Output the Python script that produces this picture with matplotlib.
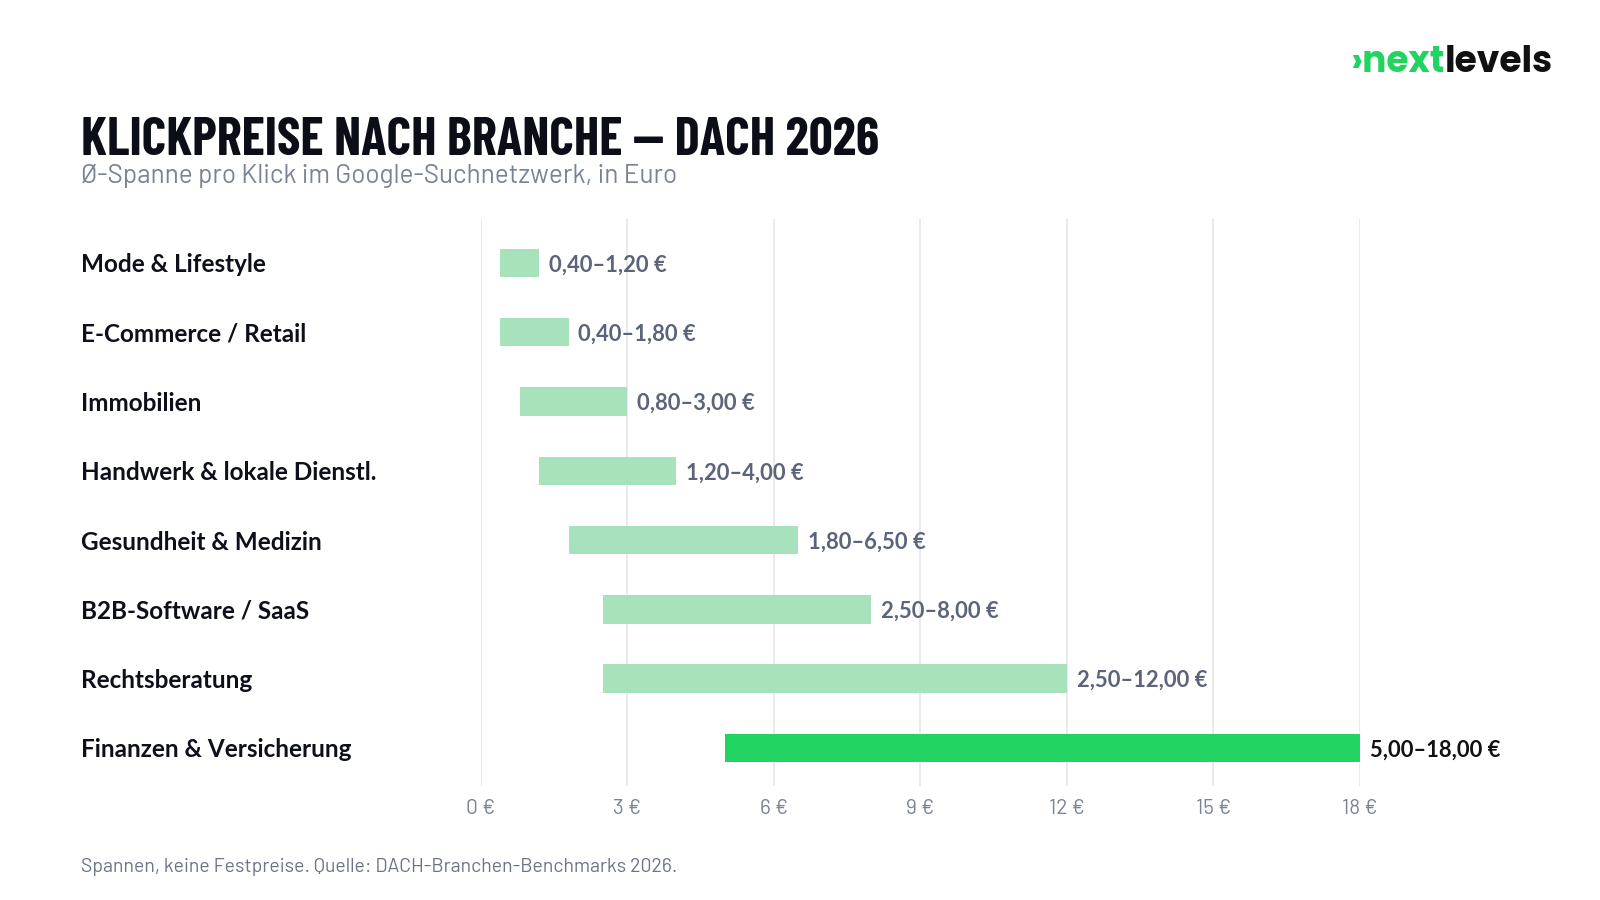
import matplotlib.pyplot as plt
from matplotlib.transforms import blended_transform_factory

categories = ["Mode & Lifestyle", "E-Commerce / Retail", "Immobilien",
              "Handwerk & lokale Dienstl.", "Gesundheit & Medizin",
              "B2B-Software / SaaS", "Rechtsberatung", "Finanzen & Versicherung"]
low = [0.40, 0.40, 0.80, 1.20, 1.80, 2.50, 2.50, 5.00]
high = [1.20, 1.80, 3.00, 4.00, 6.50, 8.00, 12.00, 18.00]
xticks = [0, 3, 6, 9, 12, 15, 18]
highlight = "Finanzen & Versicherung"

BODY = ["Lato", "DejaVu Sans"]
THIN = ["Barlow", "Lato", "DejaVu Sans"]
HEAD = ["Barlow Condensed", "DejaVu Sans"]
LOGO = ["Poppins", "Lato", "DejaVu Sans"]

def eur(v):
    return f"{v:.2f}".replace(".", ",")

fig = plt.figure(figsize=(16, 9), dpi=100)
fig.patch.set_facecolor("white")
ax = fig.add_axes([480.6 / 1600, 1 - 786 / 900, (1360 - 480.6) / 1600, (786 - 219) / 900])

for i, (c, lo, hi) in enumerate(zip(categories, low, high)):
    hl = c == highlight
    ax.barh(i, hi - lo, left=lo, height=0.41,
            color="#21d462" if hl else "#a8e2bd", zorder=2)
    ax.text(hi + 0.2, i, f"{eur(lo)}–{eur(hi)} €", va="center_baseline", ha="left",
            fontsize=15.8, fontweight="bold", family=BODY,
            color="#111111" if hl else "#5b6478", clip_on=False)

ax.set_xlim(0, 18)
ax.set_ylim(7.55, -0.635)
ax.set_xticks(xticks)
ax.set_xticklabels([f"{t} €" for t in xticks], fontsize=15, color="#7a8394", family=THIN)
ax.tick_params(axis="x", length=0, pad=9)
ax.set_yticks([])
ax.grid(axis="x", color="#e6e6e6", linewidth=1.2, zorder=0)
for s in ax.spines.values():
    s.set_visible(False)

tr = blended_transform_factory(fig.transFigure, ax.transData)
for i, c in enumerate(categories):
    ax.text(81 / 1600, i, c, transform=tr, va="center_baseline", ha="left",
            fontsize=17.5, fontweight="bold", family=BODY, color="#0d0f1a")

fig.text(81 / 1600, 1 - 141 / 900, "KLICKPREISE NACH BRANCHE — DACH 2026",
         fontsize=38, fontweight="bold", fontstretch="condensed", family=HEAD,
         color="#0b0d17", va="center", ha="left")
fig.text(81 / 1600, 1 - 176 / 900, "Ø-Spanne pro Klick im Google-Suchnetzwerk, in Euro",
         fontsize=18.8, family=THIN, color="#7a8394", va="center", ha="left")
fig.text(81 / 1600, 1 - 867 / 900, "Spannen, keine Festpreise. Quelle: DACH-Branchen-Benchmarks 2026.",
         fontsize=14, family=THIN, color="#6b7384", va="center", ha="left")

# logo
logo = fig.text(1553 / 1600, 1 - 64 / 900, "levels", fontsize=26, fontweight="bold",
                family=LOGO, color="#111111", va="center", ha="right")
fig.canvas.draw()
bb = logo.get_window_extent()
fig.text(bb.x0 / 1600, 1 - 64 / 900, "›next", fontsize=26, fontweight="bold",
         family=LOGO, color="#21d462", va="center", ha="right")

fig.savefig("out.png", dpi=100)
